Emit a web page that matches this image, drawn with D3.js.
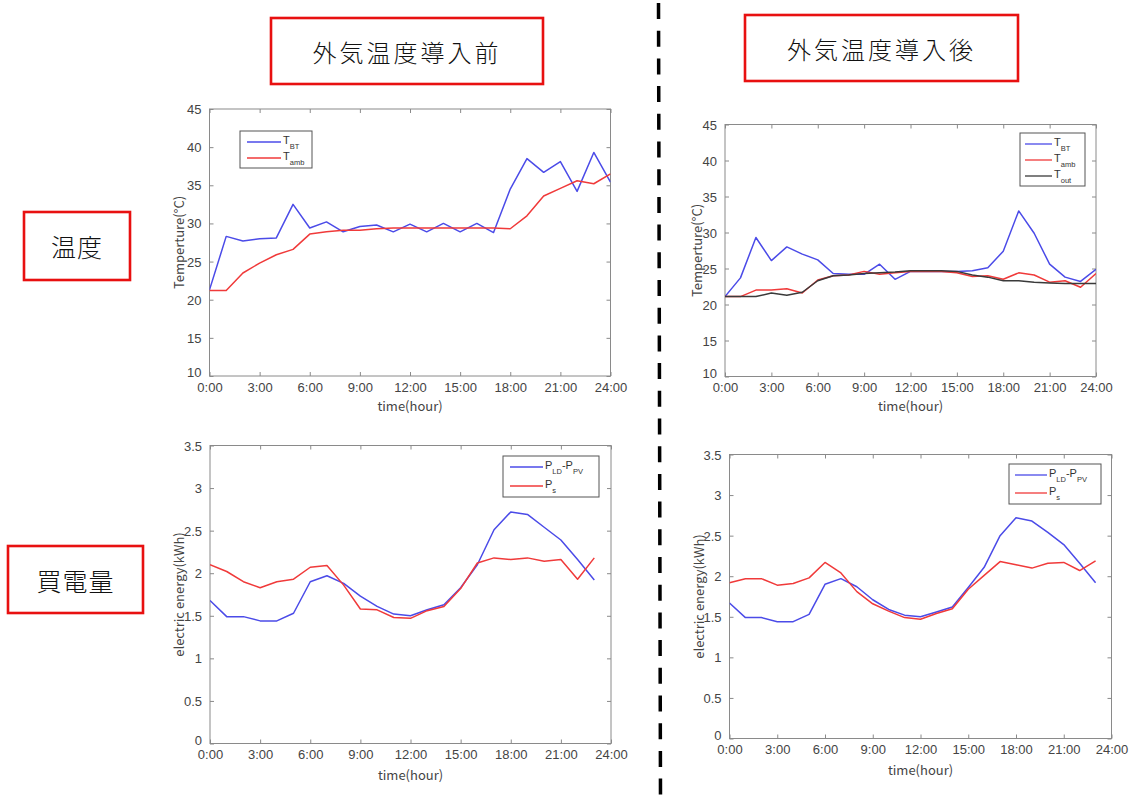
<!DOCTYPE html>
<html>
<head>
<meta charset="utf-8">
<script src="https://cdn.jsdelivr.net/npm/d3@7"></script>
<style>
  html, body { margin: 0; padding: 0; background: #fff; }
  svg { display: block; }
  text { font-family: "Noto Sans CJK JP", "Noto Sans", sans-serif; }
</style>
</head>
<body>
<svg id="chart" width="1133" height="800"></svg>
<script>
// ---- data ----
const hoursTemp = [0,1,2,3,4,5,6,7,8,9,10,11,12,13,14,15,16,17,18,19,20,21,22,23,24];
const hoursPower = [0,1,2,3,4,5,6,7,8,9,10,11,12,13,14,15,16,17,18,19,20,21,22,23];

const xTickValues = [0,3,6,9,12,15,18,21,24];
const xTickLabels = ["0:00","3:00","6:00","9:00","12:00","15:00","18:00","21:00","24:00"];
const tempTicks = [10,15,20,25,30,35,40,45];
const powerTicks = [0,0.5,1,1.5,2,2.5,3,3.5];
const powerTickLabels = ["0","0.5","1","1.5","2","2.5","3","3.5"];

// before outdoor temperature is introduced
const beforeTBT  = [21.3,28.3,27.7,28.0,28.1,32.5,29.4,30.2,28.9,29.6,29.8,28.9,29.9,28.9,30.0,28.9,30.0,28.8,34.5,38.5,36.7,38.1,34.2,39.3,35.4];
const beforeTamb = [21.2,21.2,23.5,24.8,25.9,26.6,28.6,28.9,29.1,29.1,29.3,29.4,29.4,29.4,29.4,29.4,29.4,29.4,29.3,31.0,33.6,34.6,35.6,35.2,36.5];

// after outdoor temperature is introduced
const afterTBT  = [21.1,23.7,29.3,26.1,28.0,27.0,26.2,24.3,24.2,24.2,25.6,23.5,24.6,24.6,24.6,24.6,24.7,25.1,27.4,33.0,29.9,25.6,23.8,23.2,24.9];
const afterTamb = [21.1,21.1,22.0,22.0,22.2,21.6,23.4,24.0,24.1,24.6,24.2,24.4,24.6,24.6,24.6,24.4,23.9,24.0,23.5,24.4,24.1,23.1,23.3,22.4,24.3];
const afterTout = [21.1,21.1,21.1,21.6,21.3,21.7,23.3,24.0,24.1,24.3,24.4,24.5,24.7,24.7,24.7,24.6,24.1,23.8,23.3,23.3,23.1,23.0,22.9,22.9,22.9];

// purchased electricity
const beforeNetLoad = [1.68,1.49,1.49,1.44,1.44,1.53,1.90,1.97,1.88,1.73,1.61,1.52,1.50,1.57,1.63,1.83,2.10,2.51,2.72,2.69,2.54,2.39,2.16,1.92];
const beforePs      = [2.10,2.02,1.90,1.83,1.90,1.93,2.07,2.09,1.86,1.58,1.57,1.48,1.47,1.56,1.61,1.82,2.12,2.18,2.16,2.18,2.14,2.16,1.93,2.18];
const afterNetLoad  = [1.67,1.49,1.49,1.44,1.44,1.53,1.90,1.97,1.87,1.71,1.59,1.52,1.50,1.56,1.62,1.86,2.11,2.50,2.72,2.68,2.54,2.39,2.16,1.92];
const afterPs       = [1.92,1.97,1.97,1.89,1.91,1.98,2.17,2.04,1.81,1.66,1.57,1.49,1.47,1.54,1.60,1.84,2.01,2.18,2.14,2.10,2.16,2.17,2.07,2.19];

const columnTitles = ["外気温度導入前", "外気温度導入後"];
const rowTitles = ["温度", "買電量"];

// ---- styles ----
const BLUE = "#4b4be8";
const RED = "#f03a3a";
const DARK = "#3a3a3a";
const AXIS = "#8a8a8a";
const TEXT = "#444";

const svg = d3.select("#chart");

// ---- header boxes ----
function labelBox(x, y, w, h, label, fs, spacing) {
  svg.append("rect")
    .attr("x", x).attr("y", y).attr("width", w).attr("height", h)
    .attr("fill", "#fff").attr("stroke", "#e81010").attr("stroke-width", 2.6);
  svg.append("text")
    .attr("x", x + w / 2).attr("y", y + h / 2)
    .attr("text-anchor", "middle").attr("dominant-baseline", "central")
    .attr("font-size", fs).attr("fill", "#111")
    .attr("letter-spacing", spacing)
    .style("font-weight", 300)
    .text(label);
}
labelBox(271, 18, 272, 66, columnTitles[0], 24, 3);
labelBox(745, 15, 273, 66, columnTitles[1], 24, 3);
labelBox(24, 212, 106, 68, rowTitles[0], 25, 1);
labelBox(8, 546, 135, 67, rowTitles[1], 25, 1);

// ---- divider ----
svg.append("line")
  .attr("x1", 658.5).attr("y1", 0).attr("x2", 660.5).attr("y2", 800)
  .attr("stroke", "#000").attr("stroke-width", 3.5)
  .attr("stroke-dasharray", "16 11.7").attr("stroke-dashoffset", -3);

// ---- panel drawer ----
function panel(cfg) {
  const { x0, x1, y0, y1 } = cfg;
  const x = d3.scaleLinear().domain([0, 24]).range([x0, x1]);
  const y = d3.scaleLinear().domain(cfg.yDomain).range([y1, y0]);
  const g = svg.append("g");

  // plot frame
  g.append("rect")
    .attr("x", x0).attr("y", y0).attr("width", x1 - x0).attr("height", y1 - y0)
    .attr("fill", "#fff").attr("stroke", AXIS).attr("stroke-width", 1);

  const tl = 4;
  const fmtX = d => xTickLabels[xTickValues.indexOf(d)];

  // bottom axis with labels
  const ax = g.append("g").attr("transform", `translate(0,${y1})`)
    .call(d3.axisBottom(x).tickValues(xTickValues).tickFormat(fmtX).tickSizeInner(-tl).tickSizeOuter(0).tickPadding(8));
  // top axis ticks only
  const axT = g.append("g").attr("transform", `translate(0,${y0})`)
    .call(d3.axisTop(x).tickValues(xTickValues).tickFormat("").tickSizeInner(-tl).tickSizeOuter(0));
  // left axis with labels
  const ay = g.append("g").attr("transform", `translate(${x0},0)`)
    .call(d3.axisLeft(y).tickValues(cfg.yTicks).tickFormat(cfg.yFormat).tickSizeInner(-tl).tickSizeOuter(0).tickPadding(8));
  // right axis ticks only
  const ayR = g.append("g").attr("transform", `translate(${x1},0)`)
    .call(d3.axisRight(y).tickValues(cfg.yTicks).tickFormat("").tickSizeInner(-tl).tickSizeOuter(0));

  [ax, axT, ay, ayR].forEach(a => {
    a.select(".domain").remove();
    a.selectAll(".tick line").attr("stroke", AXIS);
    a.selectAll("text").attr("fill", TEXT).attr("font-size", 13)
      .style("font-family", '"Liberation Sans", Arial, sans-serif');
  });
  ax.selectAll("text").attr("dy", "0.6em");
  // lowest value label sits just above the corner so it clears the first time label
  ay.selectAll("text").attr("dy", (d, i) => i === 0 ? "0.05em" : "0.35em");

  // axis titles
  g.append("text")
    .attr("x", (x0 + x1) / 2).attr("y", cfg.xLabelY)
    .attr("text-anchor", "middle").attr("font-size", 13).attr("fill", TEXT)
    .text("time(hour)");
  g.append("text")
    .attr("transform", `translate(${cfg.yLabelX},${(y0 + y1) / 2}) rotate(-90)`)
    .attr("text-anchor", "middle").attr("dominant-baseline", "central")
    .attr("font-size", 13).attr("fill", TEXT)
    .text(cfg.yLabel);

  // series
  const clipId = "clip" + Math.round(x0) + Math.round(y0);
  svg.append("clipPath").attr("id", clipId)
    .append("rect").attr("x", x0).attr("y", y0).attr("width", x1 - x0).attr("height", y1 - y0);
  cfg.series.forEach(s => {
    const line = d3.line().x((d, i) => x(s.xs[i])).y(d => y(d));
    g.append("path")
      .datum(s.values)
      .attr("clip-path", `url(#${clipId})`)
      .attr("fill", "none").attr("stroke", s.color).attr("stroke-width", 1.5)
      .attr("stroke-linejoin", "round")
      .attr("d", line);
  });

  // legend
  const L = cfg.legend;
  g.append("rect")
    .attr("x", L.x).attr("y", L.y).attr("width", L.w).attr("height", L.h)
    .attr("fill", "#fff").attr("stroke", "#555").attr("stroke-width", 1);
  cfg.series.forEach((s, i) => {
    const ly = L.y + L.first + i * L.step;
    g.append("line")
      .attr("x1", L.x + L.lineStart).attr("x2", L.x + L.lineEnd)
      .attr("y1", ly).attr("y2", ly)
      .attr("stroke", s.color).attr("stroke-width", 1.3);
    const t = g.append("text")
      .attr("x", L.x + L.lineEnd + 2).attr("y", ly + 2)
      .attr("font-size", 11).attr("fill", "#333")
      .style("font-family", '"Liberation Sans", Arial, sans-serif');
    s.label.forEach(part => {
      const ts = t.append("tspan").text(part.t);
      if (part.sub) ts.attr("font-size", 7.5).attr("dy", 5);
      else ts.attr("dy", part.reset ? -5 : 0);
    });
  });
}

const labelTBT = [{ t: "T" }, { t: "BT", sub: true }];
const labelTamb = [{ t: "T" }, { t: "amb", sub: true }];
const labelTout = [{ t: "T" }, { t: "out", sub: true }];
const labelNet = [{ t: "P" }, { t: "LD", sub: true }, { t: "-P", reset: true }, { t: "PV", sub: true }];
const labelPs = [{ t: "P" }, { t: "s", sub: true }];

panel({
  x0: 209.5, x1: 610.5, y0: 109, y1: 376,
  yDomain: [10, 45], yTicks: tempTicks, yFormat: d3.format("d"),
  yLabel: "Temperture(°C)", yLabelX: 178, xLabelY: 411,
  series: [
    { xs: hoursTemp, values: beforeTBT, color: BLUE, label: labelTBT },
    { xs: hoursTemp, values: beforeTamb, color: RED, label: labelTamb }
  ],
  legend: { x: 240, y: 131, w: 72, h: 37, first: 11, step: 16, lineStart: 7, lineEnd: 41 }
});

panel({
  x0: 725, x1: 1096, y0: 124.5, y1: 376.5,
  yDomain: [10, 45], yTicks: tempTicks, yFormat: d3.format("d"),
  yLabel: "Temperture(°C)", yLabelX: 696, xLabelY: 411,
  series: [
    { xs: hoursTemp, values: afterTBT, color: BLUE, label: labelTBT },
    { xs: hoursTemp, values: afterTamb, color: RED, label: labelTamb },
    { xs: hoursTemp, values: afterTout, color: DARK, label: labelTout }
  ],
  legend: { x: 1020, y: 133, w: 65, h: 53, first: 11, step: 16, lineStart: 5, lineEnd: 32 }
});

panel({
  x0: 210, x1: 611, y0: 445.5, y1: 743.5,
  yDomain: [0, 3.5], yTicks: powerTicks, yFormat: d => powerTickLabels[powerTicks.indexOf(d)],
  yLabel: "electric energy(kWh)", yLabelX: 178, xLabelY: 780,
  series: [
    { xs: hoursPower, values: beforeNetLoad, color: BLUE, label: labelNet },
    { xs: hoursPower, values: beforePs, color: RED, label: labelPs }
  ],
  legend: { x: 503, y: 456, w: 96, h: 41, first: 11, step: 19, lineStart: 7, lineEnd: 40 }
});

panel({
  x0: 729.5, x1: 1111.5, y0: 454.5, y1: 738.5,
  yDomain: [0, 3.5], yTicks: powerTicks, yFormat: d => powerTickLabels[powerTicks.indexOf(d)],
  yLabel: "electric energy(kWh)", yLabelX: 698, xLabelY: 775,
  series: [
    { xs: hoursPower, values: afterNetLoad, color: BLUE, label: labelNet },
    { xs: hoursPower, values: afterPs, color: RED, label: labelPs }
  ],
  legend: { x: 1009, y: 464, w: 92, h: 40, first: 11, step: 18, lineStart: 6, lineEnd: 38 }
});
</script>
</body>
</html>
